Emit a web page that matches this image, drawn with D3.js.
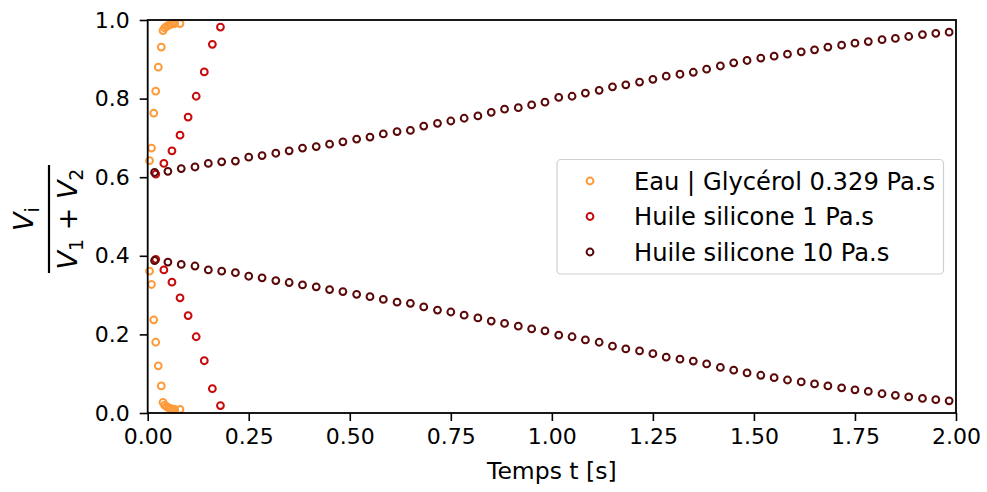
<!DOCTYPE html>
<html><head><meta charset="utf-8">
<script src="https://cdn.jsdelivr.net/npm/d3@7"></script>
<style>body{margin:0;background:#fff}svg{display:block;font-family:"DejaVu Sans",sans-serif}</style>
</head><body><svg id="c" width="987" height="492"></svg>
<script>
// ---- data ----
const tEau = [0.0045,0.0094,0.0149,0.0198,0.0262,0.0336,0.0379,0.0421,0.0470,0.0520,0.0569,0.0618,0.0668,0.0799];
const eauV1 = [0.642,0.674,0.763,0.819,0.880,0.931,0.973,0.980,0.984,0.987,0.989,0.990,0.991,0.991];
const eauV2 = [0.361,0.327,0.237,0.180,0.120,0.069,0.027,0.020,0.016,0.013,0.011,0.010,0.009,0.009];

const tH1 = [0.02,0.04,0.06,0.08,0.10,0.12,0.14,0.16,0.18];
const h1V1 = [0.608,0.635,0.667,0.707,0.753,0.806,0.868,0.938,0.982];
const h1V2 = [0.391,0.364,0.333,0.293,0.248,0.194,0.133,0.062,0.019];

const tH10 = [0.017,0.050,0.083,0.117,0.150,0.183,0.217,0.250,0.283,0.317,0.350,0.383,0.417,0.450,0.483,0.517,0.550,0.583,0.617,0.650,
              0.683,0.717,0.750,0.783,0.817,0.850,0.883,0.917,0.950,0.983,1.017,1.050,1.083,1.117,1.150,1.183,1.217,1.250,1.283,1.317,
              1.350,1.383,1.417,1.450,1.483,1.517,1.550,1.583,1.617,1.650,1.683,1.717,1.750,1.783,1.817,1.850,1.883,1.917,1.950,1.983];
const h10V1 = [0.612,0.615,0.622,0.626,0.635,0.639,0.641,0.651,0.655,0.661,0.667,0.674,0.678,0.684,0.690,0.697,0.702,0.710,0.716,0.719,
               0.730,0.737,0.743,0.750,0.756,0.765,0.773,0.777,0.784,0.791,0.803,0.806,0.814,0.821,0.830,0.835,0.842,0.849,0.857,0.862,
               0.867,0.875,0.883,0.891,0.897,0.903,0.908,0.913,0.919,0.924,0.931,0.936,0.941,0.945,0.950,0.953,0.958,0.963,0.966,0.969];
const h10V2 = [0.388,0.384,0.378,0.374,0.364,0.361,0.357,0.348,0.344,0.337,0.332,0.326,0.321,0.314,0.309,0.302,0.296,0.289,0.282,0.279,
               0.270,0.262,0.257,0.249,0.242,0.234,0.228,0.221,0.214,0.209,0.198,0.194,0.186,0.180,0.170,0.163,0.158,0.151,0.142,0.137,
               0.132,0.125,0.116,0.109,0.102,0.096,0.090,0.084,0.079,0.074,0.069,0.064,0.059,0.055,0.049,0.045,0.041,0.037,0.034,0.031];

const xTicks = [0,0.25,0.5,0.75,1.0,1.25,1.5,1.75,2.0];
const yTicks = [0,0.2,0.4,0.6,0.8,1.0];
const seriesNames = ["Eau | Glycérol 0.329 Pa.s","Huile silicone 1 Pa.s","Huile silicone 10 Pa.s"];
const colors = ["#fd9b3a","#c80a0a","#5a0808"];

// ---- chart ----
const svg = d3.select("#c");
const L=147.7,R=956,T=20,B=413;
const x = d3.scaleLinear().domain([0,2]).range([L,R]);
const y = d3.scaleLinear().domain([0,1]).range([B,T]);

const series = [
  {t:tEau, a:eauV1, b:eauV2, c:colors[0]},
  {t:tH1, a:h1V1, b:h1V2, c:colors[1]},
  {t:tH10, a:h10V1, b:h10V2, c:colors[2]}
];
const plot = svg.append("g");
series.forEach(s=>{
  [s.a,s.b].forEach(arr=>{
    plot.selectAll(null).data(s.t.map((t,i)=>[t,arr[i]])).enter().append("circle")
      .attr("cx",d=>x(d[0])).attr("cy",d=>y(d[1])).attr("r",3.4)
      .attr("fill","none").attr("stroke",s.c).attr("stroke-width",2);
  });
});

// axes
const fmtX = d3.format(".2f"), fmtY = d3.format(".1f");
const gx = svg.append("g").attr("transform",`translate(0,${B})`)
  .call(d3.axisBottom(x).tickValues(xTicks).tickFormat(fmtX).tickSizeOuter(0).tickSize(8).tickPadding(7));
const gy = svg.append("g").attr("transform",`translate(${L},0)`)
  .call(d3.axisLeft(y).tickValues(yTicks).tickFormat(fmtY).tickSizeOuter(0).tickSize(8).tickPadding(10));
[gx,gy].forEach(g=>{
  g.select(".domain").remove();
  g.selectAll(".tick line").attr("stroke","#000").attr("stroke-width",1.6);
  g.selectAll(".tick text").attr("fill","#000").style("font-size","22px").style("font-family","DejaVu Sans");
});
svg.append("rect").attr("x",L).attr("y",T).attr("width",R-L).attr("height",B-T)
  .attr("fill","none").attr("stroke","#000").attr("stroke-width",1.8);

svg.append("text").attr("x",(L+R)/2).attr("y",479).attr("text-anchor","middle")
  .style("font-size","23.5px").text("Temps t [s]");

// y label: fraction
const yl = svg.append("g").attr("transform","translate(49,219) rotate(-90)");
yl.append("line").attr("x1",-54).attr("x2",54).attr("y1",0).attr("y2",0).attr("stroke","#000").attr("stroke-width",2.2);
const num = yl.append("text").attr("x",0).attr("y",-16).attr("text-anchor","middle").style("font-size","27px");
num.append("tspan").style("font-style","italic").text("V");
num.append("tspan").attr("dy",6).style("font-size","19px").text("i");
const den = yl.append("text").attr("x",0).attr("y",28).attr("text-anchor","middle").style("font-size","27px");
den.append("tspan").style("font-style","italic").text("V");
den.append("tspan").attr("dy",6).style("font-size","19px").text("1");
den.append("tspan").attr("dy",-6).text(" + ");
den.append("tspan").style("font-style","italic").text("V");
den.append("tspan").attr("dy",6).style("font-size","19px").text("2");

// legend
const lg = svg.append("g");
lg.append("rect").attr("x",557).attr("y",159.5).attr("width",386.5).attr("height",114.5).attr("rx",4)
  .attr("fill","#fff").attr("fill-opacity",0.8).attr("stroke","#d0d0d0").attr("stroke-width",1.2);
seriesNames.forEach((n,i)=>{
  const yy = 181 + i*35.5;
  lg.append("circle").attr("cx",590).attr("cy",yy).attr("r",3.4).attr("fill","none")
    .attr("stroke",colors[i]).attr("stroke-width",2);
  lg.append("text").attr("x",634).attr("y",yy+8.5).style("font-size","24.2px").text(n);
});
</script></body></html>
